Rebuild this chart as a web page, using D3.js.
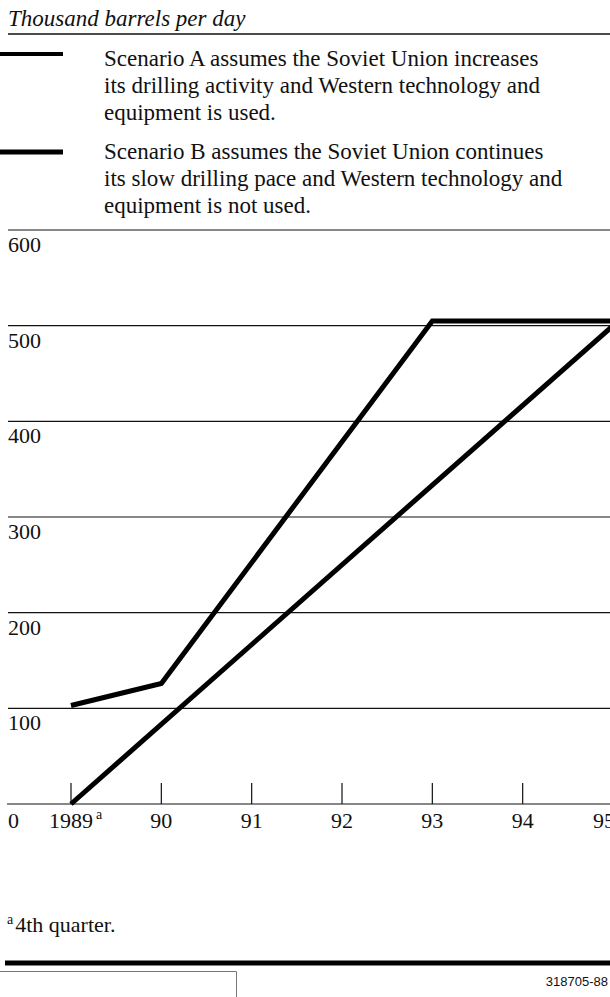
<!DOCTYPE html>
<html>
<head>
<meta charset="utf-8">
<script src="https://cdn.jsdelivr.net/npm/d3@7"></script>
<style>
  html, body { margin: 0; padding: 0; background: #fff; }
  svg { display: block; }
  text { font-family: "Liberation Serif", "Times New Roman", serif; fill: #111; }
</style>
</head>
<body>
<div id="chart"></div>
<script>
// ---- data ----
const unitLabel = "Thousand barrels per day";
const years = [1989, 1990, 1991, 1992, 1993, 1994, 1995];
const yearLabels = ["1989", "90", "91", "92", "93", "94", "95"];
const yTicks = [0, 100, 200, 300, 400, 500, 600];
const scenarioAYears = [1989, 1990, 1993, 1995];
const scenarioAValues = [103, 126, 505, 505];
const scenarioBYears = [1989, 1995];
const scenarioBValues = [0, 500];
const legendA = ["Scenario A assumes the Soviet Union increases",
                 "its drilling activity and Western technology and",
                 "equipment is used."];
const legendB = ["Scenario B assumes the Soviet Union continues",
                 "its slow drilling pace and Western technology and",
                 "equipment is not used."];
const footnote = "4th quarter.";
const sourceId = "318705-88";

// ---- layout ----
const W = 610, H = 997;
const svg = d3.select("#chart").append("svg").attr("width", W).attr("height", H);

const x = d3.scaleLinear().domain([1989, 1995]).range([71, 613]);
const y = d3.scaleLinear().domain([0, 600]).range([804, 230]);

// title
svg.append("text").attr("x", 8).attr("y", 26)
  .style("font-style", "italic").style("font-size", "23px")
  .text(unitLabel);
svg.append("line").attr("x1", 8).attr("x2", W).attr("y1", 34).attr("y2", 34)
  .attr("stroke", "#111").attr("stroke-width", 1.5);

// legend
function legendBlock(lines, swY, textY, sw) {
  svg.append("line").attr("x1", 0).attr("x2", 63).attr("y1", swY).attr("y2", swY)
    .attr("stroke", "#000").attr("stroke-width", sw);
  const t = svg.append("text").style("font-size", "23px");
  lines.forEach((l, i) => {
    t.append("tspan").attr("x", 104).attr("y", textY + i * 27).text(l);
  });
}
legendBlock(legendA, 54, 66, 4);
legendBlock(legendB, 152, 159, 5);

// gridlines
svg.append("g").selectAll("line").data(yTicks).join("line")
  .attr("x1", d => d === 0 ? 7 : 8).attr("x2", W)
  .attr("y1", d => y(d)).attr("y2", d => y(d))
  .attr("stroke", "#111").attr("stroke-width", 1.2);

// y labels
svg.append("g").selectAll("text").data(yTicks.filter(d => d > 0)).join("text")
  .attr("x", 8).attr("y", d => y(d) + 22)
  .style("font-size", "22px").text(d => d);

// x ticks
svg.append("g").selectAll("line").data(years).join("line")
  .attr("x1", d => x(d)).attr("x2", d => x(d))
  .attr("y1", y(0) - 21).attr("y2", y(0))
  .attr("stroke", "#111").attr("stroke-width", 1.2);

// x labels
svg.append("text").attr("x", 8).attr("y", y(0) + 24).style("font-size", "22px").text("0");
svg.append("g").selectAll("text").data(years).join("text")
  .attr("x", d => d === 1995 ? x(d) - 9 : x(d)).attr("y", y(0) + 24)
  .attr("text-anchor", "middle").style("font-size", "22px")
  .text((d, i) => yearLabels[i]);
svg.append("text").attr("x", x(1989) + 25).attr("y", y(0) + 15)
  .style("font-size", "14px").text("a");

// lines
const line = d3.line().x(d => x(d[0])).y(d => y(d[1]));
const dataA = scenarioAYears.map((yr, i) => [yr, scenarioAValues[i]]);
const dataB = scenarioBYears.map((yr, i) => [yr, scenarioBValues[i]]);
[dataA, dataB].forEach(d => {
  svg.append("path").datum(d).attr("d", line)
    .attr("fill", "none").attr("stroke", "#000").attr("stroke-width", 5)
    .attr("stroke-linejoin", "miter");
});

// footnote
const fn = svg.append("text").attr("x", 7).attr("y", 932).style("font-size", "22px");
fn.append("tspan").style("font-size", "14px").attr("dy", -8).text("a");
fn.append("tspan").attr("dx", 2).attr("dy", 8).text(footnote);

// bottom rules
svg.append("line").attr("x1", 5).attr("x2", W).attr("y1", 963).attr("y2", 963)
  .attr("stroke", "#000").attr("stroke-width", 5);
svg.append("path").attr("d", `M0,971.5H236.5V${H}`)
  .attr("fill", "none").attr("stroke", "#777").attr("stroke-width", 1);
svg.append("text").attr("x", 608).attr("y", 986).attr("text-anchor", "end")
  .style("font-family", "'Liberation Sans', Arial, sans-serif").style("font-size", "13px")
  .text(sourceId);
</script>
</body>
</html>
